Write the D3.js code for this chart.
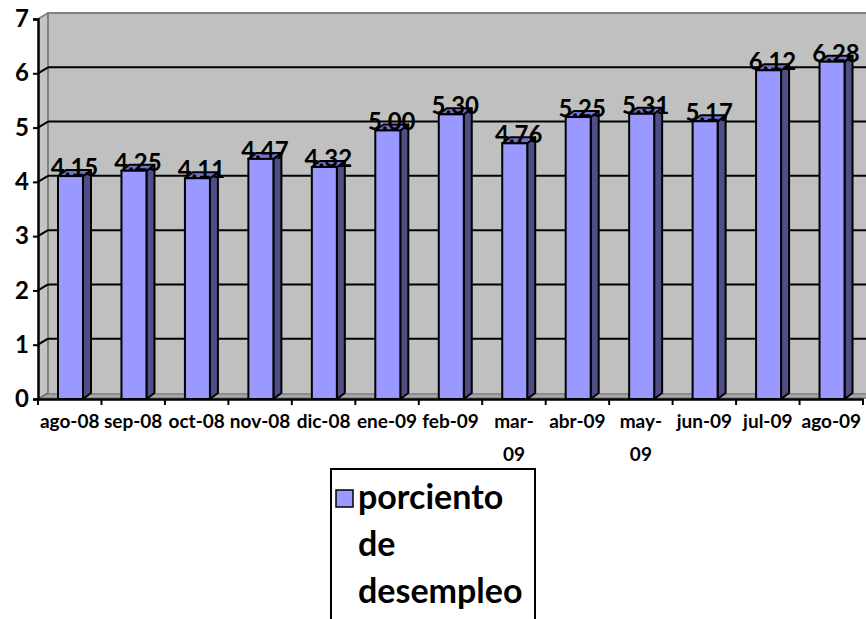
<!DOCTYPE html>
<html>
<head>
<meta charset="utf-8">
<script src="https://cdn.jsdelivr.net/npm/d3@7"></script>
<style>
  html, body { margin: 0; padding: 0; background: #ffffff; }
  svg { display: block; }
  text { font-family: Lato, "Open Sans", sans-serif; font-weight: 700; fill: #000; }
</style>
</head>
<body>
<svg id="chart" width="866" height="619"></svg>
<script>
// Monthly unemployment rate (%), Aug 2008 – Aug 2009
const months = ["ago-08", "sep-08", "oct-08", "nov-08", "dic-08", "ene-09", "feb-09",
                "mar-09", "abr-09", "may-09", "jun-09", "jul-09", "ago-09"];
// category tick labels as printed (long ones break after the hyphen)
const monthLabels = [["ago-08"], ["sep-08"], ["oct-08"], ["nov-08"], ["dic-08"], ["ene-09"], ["feb-09"],
                     ["mar-", "09"], ["abr-09"], ["may-", "09"], ["jun-09"], ["jul-09"], ["ago-09"]];
const rates = [4.15, 4.25, 4.11, 4.47, 4.32, 5.00, 5.30, 4.76, 5.25, 5.31, 5.17, 6.12, 6.28];
const yTicks = [0, 1, 2, 3, 4, 5, 6, 7];
const legendLines = ["porciento", "de", "desempleo"];

const svg = d3.select("#chart");

// Front plane of the 3-D plot box
const plotLeft = 38, plotRight = 863, plotBottom = 399, plotTop = 19;
// Oblique offset from the front plane to the back wall
const depthX = 10, depthY = -6;
// Offset used for the bar side / top faces
const barDX = 8, barDY = -6;

const x = d3.scaleBand().domain(months).range([plotLeft, plotRight]).paddingInner(0).paddingOuter(0);
const y = d3.scaleLinear().domain([0, 7]).range([plotBottom, plotTop]);
// Bars sit part-way into the box, so their front faces foreshorten slightly
const yBar = d3.scaleLinear().domain([0, 7]).range([plotBottom, 23]);

const line = d3.line();

// ---- walls and floor ----
const wallFill = "#c0c0c0";
svg.append("rect")
  .attr("x", plotLeft + depthX).attr("y", plotTop + depthY)
  .attr("width", 900).attr("height", plotBottom - plotTop)
  .attr("fill", wallFill);
svg.append("path")
  .attr("d", line([[plotLeft, plotTop], [plotLeft + depthX, plotTop + depthY], [plotLeft + depthX, plotBottom + depthY], [plotLeft, plotBottom]]) + "Z")
  .attr("fill", "#c4c4c4");
svg.append("path")
  .attr("d", line([[plotLeft, plotBottom], [plotLeft + depthX, plotBottom + depthY], [900, plotBottom + depthY], [900, plotBottom]]) + "Z")
  .attr("fill", "#8c8c8c");
svg.append("line")
  .attr("x1", plotLeft + depthX / 2).attr("x2", 900)
  .attr("y1", plotBottom + depthY / 2).attr("y2", plotBottom + depthY / 2)
  .attr("stroke", "#a8a8a8").attr("stroke-width", 2);

// wall edges
svg.append("path")
  .attr("d", line([[plotLeft + depthX, plotBottom + depthY], [plotLeft + depthX, plotTop + depthY], [900, plotTop + depthY]]))
  .attr("fill", "none").attr("stroke", "#808080").attr("stroke-width", 2);
svg.append("path")
  .attr("d", line([[plotLeft, plotTop], [plotLeft + depthX, plotTop + depthY]]))
  .attr("fill", "none").attr("stroke", "#808080").attr("stroke-width", 2);
svg.append("path")
  .attr("d", line([[plotLeft, plotBottom], [plotLeft + depthX, plotBottom + depthY]]))
  .attr("fill", "none").attr("stroke", "#6e6e6e").attr("stroke-width", 1.5);

// ---- gridlines (back wall + left wall) ----
const grid = svg.append("g");
yTicks.filter(v => v > 0 && v < 7).forEach(v => {
  grid.append("line")
    .attr("x1", plotLeft + depthX).attr("x2", 900)
    .attr("y1", y(v) + depthY).attr("y2", y(v) + depthY)
    .attr("stroke", "#000").attr("stroke-width", 2);
  grid.append("line")
    .attr("x1", plotLeft).attr("x2", plotLeft + depthX)
    .attr("y1", y(v)).attr("y2", y(v) + depthY)
    .attr("stroke", "#000").attr("stroke-width", 2);
});

// ---- bars ----
const barOffset = 20, barW = 25;
const bars = svg.append("g");
months.forEach((m, i) => {
  const v = rates[i];
  const x0 = x(m) + barOffset, x1 = x0 + barW;
  const yt = yBar(v), yb = plotBottom;
  bars.append("path")
    .attr("d", line([[x1, yt], [x1 + barDX, yt + barDY], [x1 + barDX, yb + barDY], [x1, yb]]) + "Z")
    .attr("fill", "#4f4f86").attr("stroke", "#000").attr("stroke-width", 2).attr("stroke-linejoin", "round");
  bars.append("path")
    .attr("d", line([[x0, yt], [x0 + barDX, yt + barDY], [x1 + barDX, yt + barDY], [x1, yt]]) + "Z")
    .attr("fill", "#7373cc").attr("stroke", "#000").attr("stroke-width", 2).attr("stroke-linejoin", "round");
  bars.append("rect")
    .attr("x", x0).attr("y", yt).attr("width", barW).attr("height", yb - yt)
    .attr("fill", "#9999ff").attr("stroke", "#000").attr("stroke-width", 2);
});

// ---- value axis ----
const yAxis = d3.axisLeft(y).tickValues(yTicks).tickSize(5).tickPadding(4).tickFormat(d3.format("d"));
const gy = svg.append("g").attr("transform", `translate(${plotLeft},0)`).call(yAxis);
gy.select(".domain").attr("stroke", "#000").attr("stroke-width", 2.5);
gy.selectAll(".tick line").attr("stroke", "#000").attr("stroke-width", 2);
gy.selectAll(".tick text").attr("font-size", 24).attr("font-family", "Lato, sans-serif").attr("font-weight", 700).attr("fill", "#000");

// ---- category axis ----
const xAxis = d3.axisBottom(x).tickSize(0).tickPadding(0);
const gx = svg.append("g").attr("transform", `translate(0,${plotBottom})`).call(xAxis);
gx.select(".domain").attr("stroke", "#000").attr("stroke-width", 2.5);
gx.selectAll(".tick text").remove();
const edges = months.map(m => x(m)).concat([x(months[months.length - 1]) + x.bandwidth()]);
gx.selectAll(".edge").data(edges).join("line")
  .attr("class", "edge")
  .attr("x1", d => d).attr("x2", d => d)
  .attr("y1", 0).attr("y2", 6)
  .attr("stroke", "#000").attr("stroke-width", 2);

// category labels, one text element per printed line
const labelSize = 19, labelLineGap = 33;
const xl = svg.append("g");
months.forEach((m, i) => {
  const cx = x(m) + x.bandwidth() / 2;
  monthLabels[i].forEach((part, j) => {
    xl.append("text")
      .attr("x", cx).attr("y", 428 + j * labelLineGap)
      .attr("text-anchor", "middle")
      .attr("font-size", labelSize)
      .text(part);
  });
});

// ---- data labels ----
svg.append("g").selectAll("text").data(rates).join("text")
  .attr("x", (d, i) => x(months[i]) + barOffset + (barW + barDX) / 2)
  .attr("y", d => yBar(d))
  .attr("text-anchor", "middle")
  .attr("font-size", 24)
  .text(d => d3.format(".2f")(d));

// ---- legend ----
const leg = svg.append("g");
const legLeft = 331, legTop = 469, legRight = 535;
leg.append("path")
  .attr("d", line([[legLeft, 640], [legLeft, legTop], [legRight, legTop], [legRight, 640]]))
  .attr("fill", "#fff").attr("stroke", "#000").attr("stroke-width", 2);
leg.append("rect")
  .attr("x", legLeft + 5).attr("y", 490).attr("width", 17).attr("height", 17)
  .attr("fill", "#9999ff").attr("stroke", "#000").attr("stroke-width", 1.5);
leg.selectAll("text").data(legendLines).join("text")
  .attr("x", legLeft + 27)
  .attr("y", (d, i) => 509 + i * 47)
  .attr("font-size", 34)
  .text(d => d);
</script>
</body>
</html>
